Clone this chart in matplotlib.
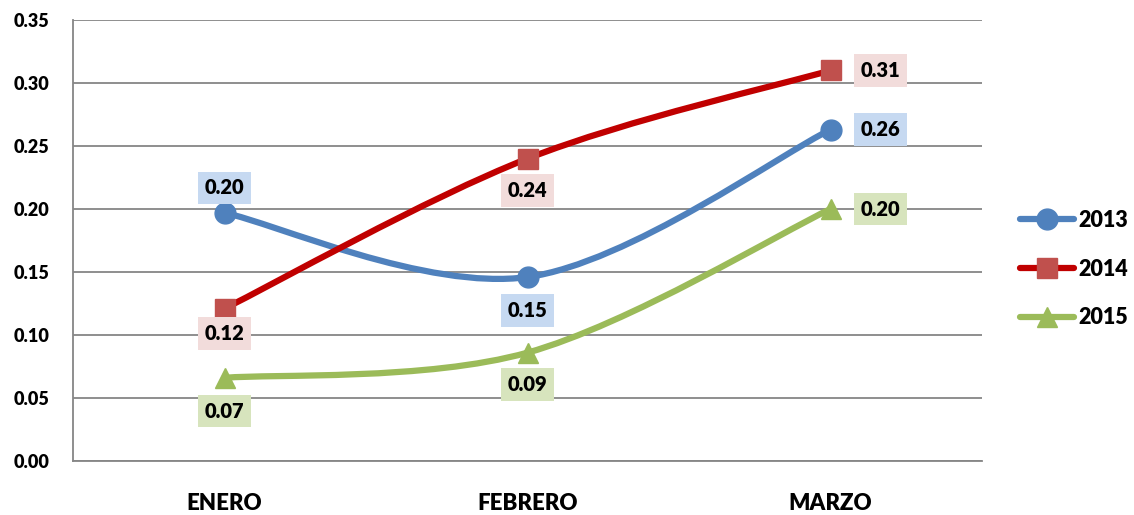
import matplotlib.pyplot as plt
from matplotlib.path import Path
from matplotlib.patches import PathPatch
from matplotlib.lines import Line2D

plt.rcParams['font.family'] = ['Lato', 'DejaVu Sans']
PESO = 'heavy'

meses = ['ENERO', 'FEBRERO', 'MARZO']
anios = ['2013', '2014', '2015']
v2013 = [0.197, 0.146, 0.263]
v2014 = [0.121, 0.240, 0.310]
v2015 = [0.066, 0.086, 0.200]

series = [v2013, v2014, v2015]
linea = ['#4f81bd', '#c00000', '#9bbb59']
marca = ['#4f81bd', '#c0504d', '#9bbb59']
forma = ['o', 's', '^']
caja = ['#c6d9f1', '#f2dcdb', '#d7e4bd']
# posicion de cada etiqueta respecto al punto (dx, dy en puntos)
pos = [
    [(0, 18), (0, -24), (36, 0)],
    [(0, -18), (0, -23), (36, 0)],
    [(0, -24), (0, -23), (36, 0)],
]


def curva_suave(xs, ys):
    """Bezier como el suavizado de Excel"""
    pts = list(zip(xs, ys))
    verts = [pts[0]]
    codes = [Path.MOVETO]
    n = len(pts)
    for i in range(n - 1):
        p0 = pts[max(i - 1, 0)]
        p1 = pts[i]
        p2 = pts[i + 1]
        p3 = pts[min(i + 2, n - 1)]
        c1 = (p1[0] + (p2[0] - p0[0]) / 6, p1[1] + (p2[1] - p0[1]) / 6)
        c2 = (p2[0] - (p3[0] - p1[0]) / 6, p2[1] - (p3[1] - p1[1]) / 6)
        verts += [c1, c2, p2]
        codes += [Path.CURVE4] * 3
    return Path(verts, codes)


fig = plt.figure(figsize=(11.34, 5.15), dpi=100)
ax = fig.add_axes([73 / 1134, 1 - 461 / 515, 909 / 1134, 441 / 515])

x = [0.5, 1.5, 2.5]
for i, vals in enumerate(series):
    ax.add_patch(PathPatch(curva_suave(x, vals), fill=False, edgecolor=linea[i],
                           lw=4.5, capstyle='round', zorder=3))
    ax.plot(x, vals, linestyle='none', marker=forma[i], markersize=15,
            color=marca[i], zorder=4)
    for j, v in enumerate(vals):
        ax.annotate('%.2f' % v, (x[j], v), xytext=pos[i][j], textcoords='offset points',
                    ha='center', va='center', fontsize=14.5, fontweight=PESO,
                    bbox=dict(boxstyle='square,pad=0.33', fc=caja[i], ec='none'), zorder=5)

ax.set_xlim(0, 3)
ax.set_ylim(0, 0.35)
ax.set_yticks([0, 0.05, 0.10, 0.15, 0.20, 0.25, 0.30, 0.35])
ax.set_yticklabels(['%.2f' % t for t in ax.get_yticks()], fontsize=13, fontweight=PESO)
ax.set_xticks(x)
ax.set_xticklabels(meses, fontsize=16, fontweight=PESO)
ax.tick_params(axis='both', length=0)
ax.tick_params(axis='x', pad=23)
ax.tick_params(axis='y', pad=17)
ax.grid(axis='y', color='#868686', lw=1.3)
ax.set_axisbelow(True)
for s in ['top', 'right']:
    ax.spines[s].set_visible(False)
for s in ['left', 'bottom']:
    ax.spines[s].set_color('#868686')
    ax.spines[s].set_linewidth(1.3)

handles = [Line2D([], [], color=linea[i], lw=4.5, marker=forma[i], markersize=15,
                  markerfacecolor=marca[i], markeredgecolor=marca[i], solid_capstyle='round')
           for i in range(3)]
fig.legend(handles, anios, loc='center left', bbox_to_anchor=(1020 / 1134, 1 - 269 / 515),
           frameon=False, prop=dict(size=15.5, weight=PESO), handlelength=2.5,
           handletextpad=0.2, labelspacing=1.3, borderpad=0, borderaxespad=0)

plt.savefig('out.png', dpi=100)
